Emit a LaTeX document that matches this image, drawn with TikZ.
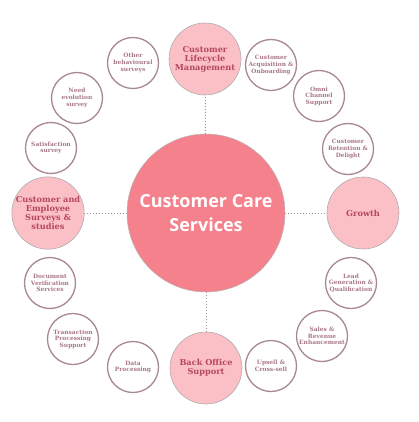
\documentclass[tikz,border=0pt]{standalone}
\usepackage{fontspec}
\newfontfamily\slabfont{DejaVu Serif}
\newfontfamily\centerfont{Open Sans}
\definecolor{centerfill}{HTML}{F4818B}
\definecolor{bigfill}{HTML}{FBBFC6}
\definecolor{bigtext}{HTML}{B5475F}
\definecolor{smallborder}{HTML}{A88890}
\definecolor{smalltext}{HTML}{A87884}
\definecolor{linkgray}{HTML}{9A9A9A}
\tikzset{
  hub/.style={circle, fill=centerfill, draw=linkgray!70, line width=0.5pt, minimum size=158pt, inner sep=0pt,
    font=\centerfont\bfseries\fontsize{18}{24}\selectfont, text=white, align=center},
  bigc/.style={circle, fill=bigfill, draw=linkgray!80, line width=0.6pt, minimum size=72pt, inner sep=0pt,
    font=\slabfont\bfseries\fontsize{8.2}{9}\selectfont, text=bigtext, align=center},
  smallc/.style={circle, fill=white, draw=smallborder, line width=1.3pt, minimum size=51pt, inner sep=0pt,
    font=\slabfont\bfseries\fontsize{5.9}{6.6}\selectfont, text=smalltext, align=center},
  link/.style={draw=linkgray, line width=1pt, dotted}
}
\begin{document}
\begin{tikzpicture}[x=1pt,y=-1pt]
\useasboundingbox (0,0) rectangle (419,422);
\node[hub] (hub) at (206,213) {Customer Care\\Services};
\node[bigc] (top) at (205,59) {Customer\\Lifecycle\\Management};
\node[bigc] (bot) at (206,368) {Back Office\\Support};
\node[bigc] (left) at (48,213) {Customer and\\Employee\\Surveys \&\\studies};
\node[bigc] (right) at (363,213) {Growth};
\draw[link] (hub) -- (top);
\draw[link] (hub) -- (bot);
\draw[link] (hub) -- (left);
\draw[link] (hub) -- (right);
\node[smallc] (s1) at (271,65) {Customer\\Acquisition \&\\Onboarding};
\node[smallc] (s2) at (319,96) {Omni\\Channel\\Support};
\node[smallc] (s3) at (348,149) {Customer\\Retention \&\\Delight};
\node[smallc] (s4) at (351,283) {Lead\\Generation \&\\Qualification};
\node[smallc] (s5) at (322,336) {Sales \&\\Revenue\\Enhancement};
\node[smallc] (s6) at (271,366) {Upsell \&\\Cross-sell};
\node[smallc] (s7) at (133,367) {Data\\Processing};
\node[smallc] (s8) at (73,339) {Transaction\\Processing\\Support};
\node[smallc] (s9) at (50,283) {Document\\Verification\\Services};
\node[smallc] (s10) at (51,148) {Satisfaction\\survey};
\node[smallc] (s11) at (77,98) {Need\\evolution\\survey};
\node[smallc] (s12) at (133,63) {Other\\behavioural\\surveys};
\end{tikzpicture}
\end{document}
